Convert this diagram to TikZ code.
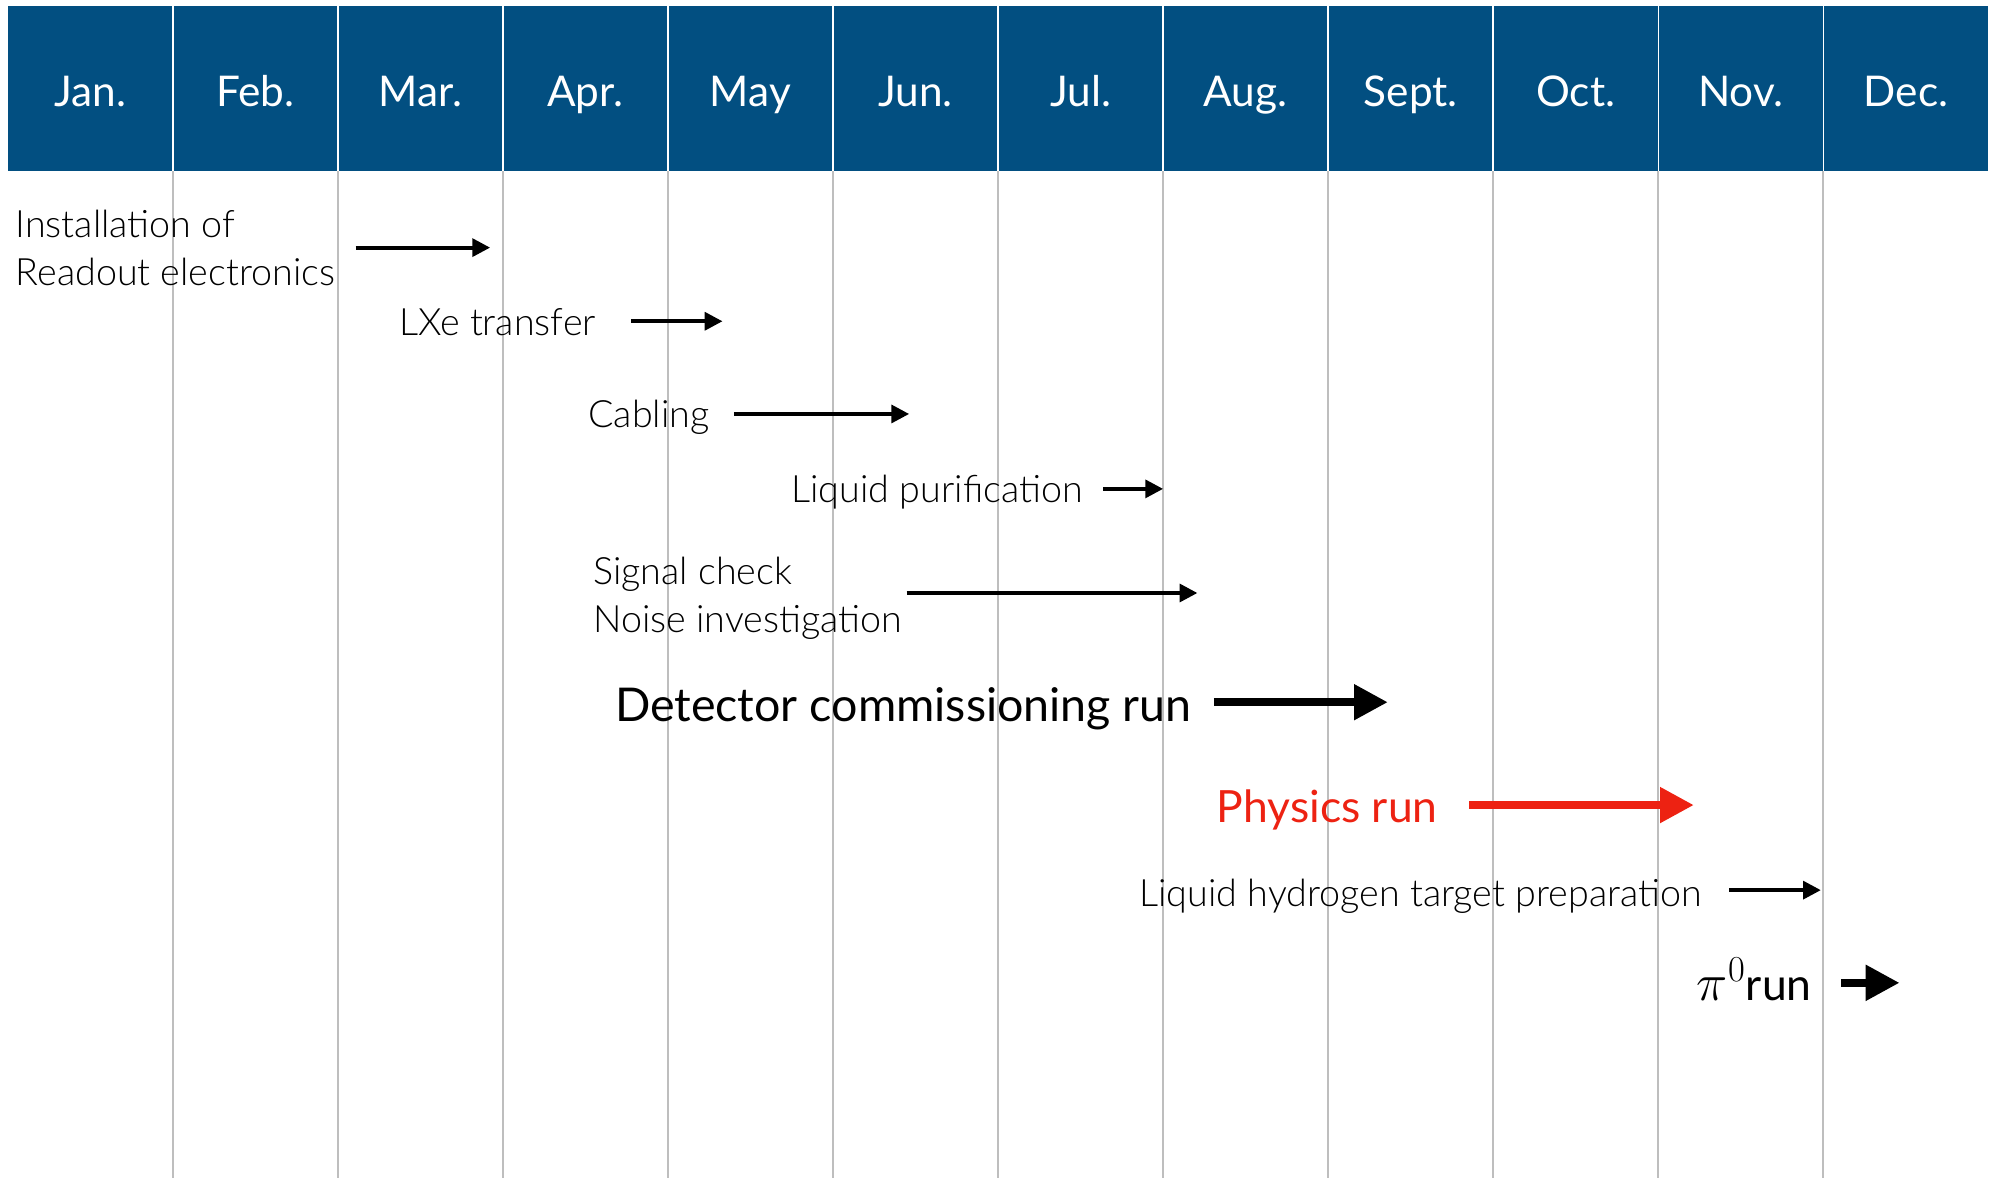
\documentclass[tikz,border=0pt]{standalone}
\usepackage{fontspec}
\setmainfont{Lato}
\newfontfamily\lightfont{Lato Light}
\usetikzlibrary{arrows.meta}
\definecolor{hdrblue}{RGB}{2,79,129}
\definecolor{gridgray}{RGB}{190,190,190}
\definecolor{runred}{RGB}{237,34,18}
\tikzset{
  month/.style={text=white, font=\fontsize{20}{24}\selectfont, inner sep=0pt, anchor=base},
  task/.style={font=\lightfont\fontsize{17.8}{22.8}\selectfont, anchor=base west, inner sep=0pt, align=left},
  bigtask/.style={font=\fontsize{21}{25}\selectfont, anchor=base west, inner sep=0pt},
  thinarr/.style={-{Triangle[length=8.4pt,width=8.4pt]}, line width=1.8pt},
  thickarr/.style={-{Triangle[length=16pt,width=16pt]}, line width=3.9pt},
}
\begin{document}
\begin{tikzpicture}[x=0.6pt,y=-0.6pt]
\useasboundingbox (0,0) rectangle (1568,928);
% header
\fill[hdrblue] (6,5) rectangle (1566,135);
\foreach \i in {1,...,11}{
  \draw[white, line width=0.8pt] ({6+130*\i},5) -- ({6+130*\i},135);
  \draw[gridgray, line width=0.9pt] ({6+130*\i},135) -- ({6+130*\i},928);
}
\foreach \m [count=\i from 0] in {Jan.,Feb.,Mar.,Apr.,May,Jun.,Jul.,Aug.,Sept.,Oct.,Nov.,Dec.}{
  \node[month] (m\i) at ({71+130*\i},84) {\m};
}
% tasks
\node[task] (t1) at (12,225) {Installation of\\Readout electronics};
\coordinate (a1s) at (280,195); \coordinate (a1e) at (386,195);
\draw[thinarr] (a1s) -- (a1e);

\node[task] (t2) at (314,264) {LXe transfer};
\coordinate (a2s) at (497,253); \coordinate (a2e) at (569,253);
\draw[thinarr] (a2s) -- (a2e);

\node[task] (t3) at (463,337) {Cabling};
\coordinate (a3s) at (578,326); \coordinate (a3e) at (716,326);
\draw[thinarr] (a3s) -- (a3e);

\node[task] (t4) at (623,396) {Liquid purification};
\coordinate (a4s) at (869,385); \coordinate (a4e) at (916,385);
\draw[thinarr] (a4s) -- (a4e);

\node[task] (t5) at (467,498) {Signal check\\Noise investigation};
\coordinate (a5s) at (714,467); \coordinate (a5e) at (943,467);
\draw[thinarr] (a5s) -- (a5e);

\node[bigtask, font=\fontsize{22}{26}\selectfont] (t6) at (484,568) {Detector commissioning run};
\coordinate (a6s) at (956,553); \coordinate (a6e) at (1093,553);
\draw[thickarr] (a6s) -- (a6e);

\node[bigtask, text=runred] (t7) at (958,648) {Physics run};
\coordinate (a7s) at (1157,634); \coordinate (a7e) at (1334,634);
\draw[thickarr, runred] (a7s) -- (a7e);

\node[task] (t8) at (897,714) {Liquid hydrogen target preparation};
\coordinate (a8s) at (1362,701); \coordinate (a8e) at (1434,701);
\draw[thinarr] (a8s) -- (a8e);

\node[bigtask] (t9) at (1336,788) {{\fontsize{25}{28}\selectfont$\pi^{0}$}run};
\coordinate (a9s) at (1450,774); \coordinate (a9e) at (1496,774);
\draw[thickarr] (a9s) -- (a9e);
\end{tikzpicture}
\end{document}
